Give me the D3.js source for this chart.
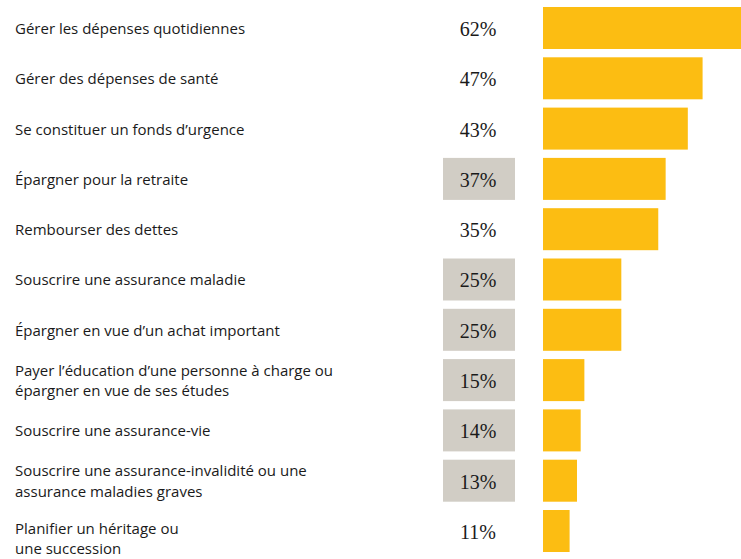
<!DOCTYPE html>
<html>
<head>
<meta charset="utf-8">
<script src="https://cdn.jsdelivr.net/npm/d3@7/dist/d3.min.js"></script>
<style>
  html, body { margin: 0; padding: 0; background: #fff; }
  svg { display: block; }
</style>
</head>
<body>
<div id="chart"></div>
<script>
// Priorités financières : libellés, pourcentages, et mise en évidence
const categories = [
  ["Gérer les dépenses quotidiennes"],
  ["Gérer des dépenses de santé"],
  ["Se constituer un fonds d’urgence"],
  ["Épargner pour la retraite"],
  ["Rembourser des dettes"],
  ["Souscrire une assurance maladie"],
  ["Épargner en vue d’un achat important"],
  ["Payer l’éducation d’une personne à charge ou", "épargner en vue de ses études"],
  ["Souscrire une assurance-vie"],
  ["Souscrire une assurance-invalidité ou une", "assurance maladies graves"],
  ["Planifier un héritage ou", "une succession"]
];
const values = [62, 47, 43, 37, 35, 25, 25, 15, 14, 13, 11];
const highlighted = [false, false, false, true, false, true, true, true, true, true, false];

const width = 741, height = 559;
const svg = d3.select("#chart").append("svg")
  .attr("width", width).attr("height", height);

const idx = d3.range(values.length);
const y = d3.scaleBand().domain(idx).range([7, 552]).paddingInner(0.165).paddingOuter(0);
const x = d3.scaleLinear().domain([3.8, 62]).range([543, 758]);
const lineGap = 20.5;
const last = values.length - 1;

const row = svg.selectAll("g.row").data(idx).join("g")
  .attr("class", "row")
  .attr("transform", i => `translate(0,${y(i)})`);

// Libellés à gauche (le dernier commence près du centre de sa rangée)
row.append("text")
  .attr("x", 15)
  .attr("y", i => y.bandwidth() / 2 + (i === last ? -3 : -(categories[i].length - 1) * lineGap / 2))
  .attr("font-family", "'Open Sans', sans-serif")
  .attr("font-size", 15)
  .attr("fill", "#1a1a1a")
  .attr("dominant-baseline", "central")
  .selectAll("tspan").data(i => categories[i]).join("tspan")
  .attr("x", 15)
  .attr("dy", (d, k) => k === 0 ? 0 : lineGap)
  .text(d => d);

// Encadré gris des valeurs mises en évidence
row.filter(i => highlighted[i]).append("rect")
  .attr("x", 443).attr("y", 0)
  .attr("width", 72).attr("height", y.bandwidth())
  .attr("fill", "#d1cdc5");

// Valeurs
row.append("text")
  .attr("x", 478)
  .attr("y", y.bandwidth() / 2 + 1)
  .attr("text-anchor", "middle")
  .attr("dominant-baseline", "central")
  .attr("font-family", "'Liberation Serif', serif")
  .attr("font-size", 20)
  .attr("fill", "#1a1a1a")
  .text(i => values[i] + "%");

// Barres
row.append("rect")
  .attr("x", x(3.8))
  .attr("y", 0)
  .attr("width", i => x(values[i]) - x(3.8))
  .attr("height", y.bandwidth())
  .attr("fill", "#fcbd12");
</script>
</body>
</html>
